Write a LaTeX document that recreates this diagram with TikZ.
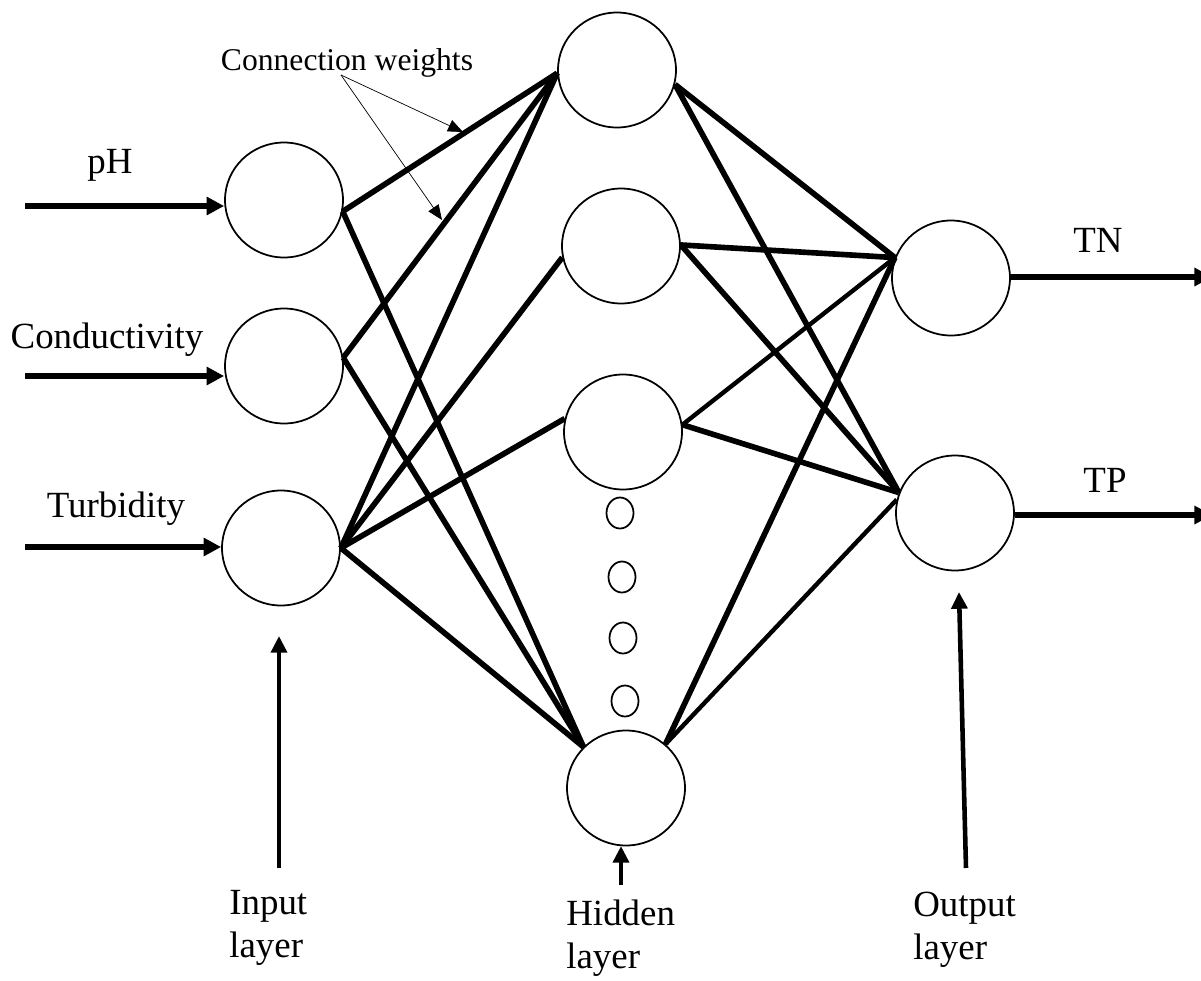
\documentclass[tikz,border=0pt]{standalone}
\usepackage{fontspec}
\setmainfont{Liberation Serif}
\usetikzlibrary{shapes.geometric,arrows.meta}
\begin{document}
\begin{tikzpicture}[x=0.02cm,y=-0.02cm,
  neuron/.style={ellipse,draw,line width=1pt,minimum width=2.36cm,minimum height=2.3cm,inner sep=0pt},
  dotnode/.style={ellipse,draw,line width=1pt,minimum width=0.54cm,minimum height=0.62cm,inner sep=0pt},
  conn/.style={line width=3.2pt},
  thinconn/.style={line width=2.5pt},
  inarrow/.style={line width=3.4pt,-{Triangle[length=10pt,width=10pt]}},
  layerarrow/.style={line width=2.6pt,-{Triangle[length=9.5pt,width=9pt]}},
  note/.style={line width=0.4pt,-{Triangle[length=8.5pt,width=7pt]}},
  lbl/.style={font=\fontsize{21}{24.4}\selectfont,inner sep=0pt},
]
\clip (0,0) rectangle (1201,981);
\fill[white] (0,0) rectangle (1201,981);

% neurons
\node[neuron] (i1) at (284,200) {};
\node[neuron] (i2) at (284,366) {};
\node[neuron] (i3) at (281,548) {};
\node[neuron] (h1) at (617,70) {};
\node[neuron] (h2) at (621,246) {};
\node[neuron] (h3) at (623,432) {};
\node[neuron] (h4) at (626,788) {};
\node[dotnode] (d1) at (620,513) {};
\node[dotnode] (d2) at (622,577) {};
\node[dotnode] (d3) at (623,638) {};
\node[dotnode] (d4) at (625,701) {};
\node[neuron] (o1) at (951,278) {};
\node[neuron] (o2) at (955,513) {};

% input -> hidden
\draw[conn] (i1.-11) -- (h1.183);
\draw[conn] (i1.-11) -- (h4.136);
\draw[conn] (i2.8) -- (h1.183);
\draw[conn] (i2.8) -- (h4.136);
\draw[conn] (i3.0) -- (h1.183);
\draw[conn] (i3.0) -- (h2.-169);
\draw[conn] (i3.0) -- (h3.167);
\draw[conn] (i3.0) -- (h4.136);

% hidden -> output
\draw[conn] (h1.-14) -- (o1.160);
\draw[conn] (h1.-14) -- (o2.160);
\draw[conn] (h2.1) -- (o1.160);
\draw[conn] (h2.1) -- (o2.160);
\draw[thinconn] (h3.7) -- (o1.160);
\draw[conn] (h3.7) -- (o2.160);
\draw[conn] (h4.48) -- (o1.160);
\draw[thinconn] (h4.48) -- (o2.167);

% input arrows
\coordinate (s1) at (25,206);
\coordinate (s2) at (25,376);
\coordinate (s3) at (25,547);
\draw[inarrow] (s1) -- (s1 -| i1.west);
\draw[inarrow] (s2) -- (s2 -| i2.west);
\draw[inarrow] (s3) -- (s3 -| i3.west);

% output arrows
\coordinate (t1) at (1212,277);
\coordinate (t2) at (1212,515);
\draw[inarrow] (t1 -| o1.east) -- (t1);
\draw[inarrow] (t2 -| o2.east) -- (t2);

% labels
\node[lbl,anchor=base] (ph) at (110,173) {pH};
\node[lbl,anchor=base] (cond) at (107,348) {Conductivity};
\node[lbl,anchor=base] (turb) at (116,517) {Turbidity};
\node[lbl,anchor=base] (tn) at (1098,252) {TN};
\node[lbl,anchor=base] (tp) at (1105,492) {TP};

% connection weights
\node[font=\fontsize{18}{20}\selectfont,inner sep=0pt,anchor=base] (cw) at (347,70) {Connection weights};
\coordinate (cws) at (341,75);
\coordinate (cwt1) at (463,132);
\coordinate (cwt2) at (442,220);
\draw[note] (cws) -- (cwt1);
\draw[note] (cws) -- (cwt2);

% layer labels and arrows
\node[lbl,anchor=north west,align=left] (inl) at (229,890) {Input\\layer};
\node[lbl,anchor=north west,align=left] (hidl) at (566,900) {Hidden\\layer};
\node[lbl,anchor=north west,align=left] (outl) at (913,892) {Output\\layer};
\coordinate (la0) at (279,868);
\coordinate (la1) at (279,636);
\coordinate (lh0) at (621,885);
\coordinate (lh1) at (621,846);
\coordinate (lo0) at (966,868);
\coordinate (lo1) at (959,592);
\draw[layerarrow] (la0) -- (la1);
\draw[layerarrow] (lh0) -- (lh1);
\draw[layerarrow] (lo0) -- (lo1);
\end{tikzpicture}
\end{document}
